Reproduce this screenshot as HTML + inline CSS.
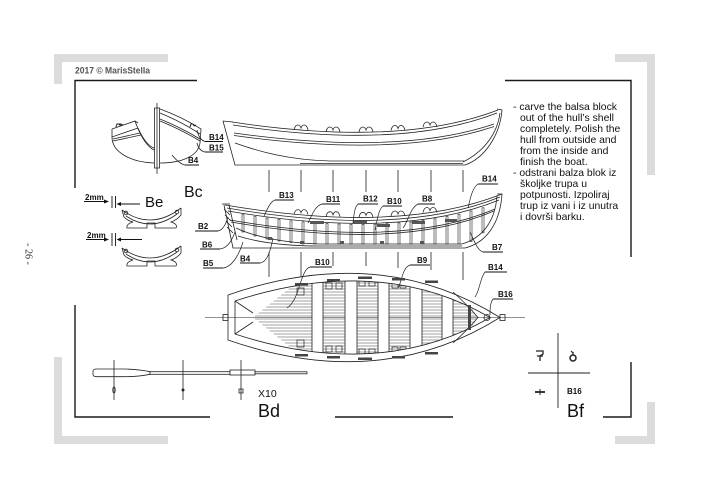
<!DOCTYPE html>
<html><head><meta charset="utf-8">
<style>
html,body{margin:0;padding:0;background:#fff;}
svg{display:block;}
text{font-family:"Liberation Sans",Arial,sans-serif;}
</style></head><body>
<svg width="708" height="489" viewBox="0 0 708 489" xmlns="http://www.w3.org/2000/svg">
<rect width="708" height="489" fill="#fff"/>
<defs>
<clipPath id="inner"><path d="M235,301 C305,278 400,265 490,317.5 C400,370 305,357 235,334 Z"/></clipPath>
<clipPath id="floor"><path d="M253,317.5 L315,268 L445,268 L478,317.5 L445,367 L315,367 Z"/></clipPath>
</defs>

<!-- gray corner bars -->
<g fill="#dcdcdc">
<rect x="54" y="54" width="114" height="8"/>
<rect x="54" y="54" width="8" height="30"/>
<rect x="615" y="54" width="40" height="8"/>
<rect x="647" y="54" width="8" height="121"/>
<rect x="54" y="357" width="8" height="87"/>
<rect x="54" y="436" width="114" height="8"/>
<rect x="647" y="402" width="8" height="42"/>
<rect x="615" y="436" width="40" height="8"/>
</g>

<!-- black frame -->
<g stroke="#1a1a1a" stroke-width="1.4" fill="none">
<path d="M75,188 V80.5 H197"/>
<path d="M505,80.5 H631 V257"/>
<path d="M631,362 V417 H603"/>
<path d="M335,417 H453"/>
<path d="M75,305 V417 H210"/>
</g>

<text x="75" y="73.5" font-size="9" font-weight="bold" fill="#555" textLength="75" lengthAdjust="spacingAndGlyphs">2017 © MarisStella</text>
<text transform="translate(25.5,254) rotate(90)" font-size="10" text-anchor="middle" fill="#333" style="font-family:'Liberation Serif',serif">- 26 -</text>

<!-- ===== section view (top-left) ===== -->
<g stroke="#222" stroke-width="0.8" fill="none">
<path d="M157,103 V174"/>
<rect x="154.5" y="108" width="5" height="60"/>
<path d="M112,129 L135,121 L138,123"/>
<path d="M112,129 L112,137 L138,128"/>
<path d="M113,139 L140,133"/>
<path d="M113,141 L141,135"/>
<path d="M112,137 C112,152 130,162 154,163"/>
<path d="M135,121 C140,135 146,146 154,150"/>
<path d="M138,128 C143,139 148,146 154,148"/>
<path d="M160,109 Q182,117 201,129 L200,143"/>
<path d="M160,113 Q182,122 200,134"/>
<path d="M160,119 Q182,128 200,139"/>
<path d="M160,121 Q182,130 200,141"/>
<path d="M200,143 C198,157 180,163 160,163"/>
<path d="M116,127 l1,-3 l3,0 l1,2 M119,125 l2,-1 l2,1" stroke-width="1"/>
<path d="M190,127 l1,-3 l2,0 l1,2 M194,126 l2,-1" stroke-width="1"/>
<path d="M205,141.5 C200,140 198,135 197,130"/>
<path d="M205,152 C200,151 198,147 197,143"/>
<path d="M185,165 C180,164 176,160 172,155"/>
</g>
<g stroke="#111" stroke-width="1">
<path d="M205,141.5 H223"/><path d="M205,152 H223"/><path d="M185,165 H199"/>
</g>
<g font-size="8" font-weight="bold" fill="#111">
<text x="209" y="140">B14</text>
<text x="209" y="150.5">B15</text>
<text x="188" y="163">B4</text>
</g>

<!-- ===== top profile boat ===== -->
<g stroke="#222" stroke-width="0.8" fill="none">
<path d="M223,121 L233,122"/>
<path d="M223,121 L235,165 L465,165 C485,158 500,135 502,110 L497,109"/>
<path d="M300,163.5 L463,163.5"/>
<path d="M232,122 Q400,147.5 498,110"/>
<path d="M233,125 Q400,150.5 497,113"/>
<path d="M234,133 Q400,156 494,124"/>
<path d="M234,135.5 Q400,158.5 494,126.5"/>
<path d="M500,113 C497,135 483,152 463,162"/>
<path d="M235,143 C260,152 290,160 330,161 L464,161"/>
<path d="M294,130 Q295,125 298,125 Q300,125 301,128 Q302,125 304,125 Q307,125 308,130"/>
<path d="M326,132 Q327,127 330,127 Q332,127 333,130 Q334,127 336,127 Q339,127 340,132"/>
<path d="M359,132 Q360,127 363,127 Q365,127 366,130 Q367,127 369,127 Q372,127 373,132"/>
<path d="M391,130.5 Q392,125.5 395,125.5 Q397,125.5 398,128.5 Q399,125.5 401,125.5 Q404,125.5 405,130.5"/>
<path d="M423,127 Q424,122 427,122 Q429,122 430,125 Q431,122 433,122 Q436,122 437,127"/>
</g>

<!-- alignment ticks -->
<g stroke="#222" stroke-width="0.8">
<path d="M269,170V192 M301,170V192 M333,170V192 M366,170V192 M398,170V192 M431,170V192 M463,170V192"/>
<path d="M269,252V277 M301,252V277 M333,252V266 M366,252V266 M398,252V268 M431,252V270 M463,252V280"/>
</g>

<!-- ===== middle cutaway boat ===== -->
<g stroke="#222" stroke-width="0.8" fill="none">
<path d="M222,204 L230,204"/>
<path d="M224,205 L233,248 L465,248 C485,243 500,225 502,194 L497,194"/>
<path d="M225,205 Q400,234.5 502,194"/>
<path d="M227,208 Q400,237.5 500,197"/>
<path d="M228,211 Q400,240.5 499,200"/>
<path d="M230,220 Q400,249.5 495,209"/>
<path d="M231,222 Q400,251.5 494,211"/>
<path d="M229,205 L237,240"/>
<path d="M224,209 L230,215 M225,215 L231,221 M226,221 L232,227 M227,227 L233,233"/>
<path d="M497,196 C495,222 482,238 462,244"/>
<path d="M236,228 C255,237 285,243 320,244 L462,244"/>
<path d="M238,236 C260,243 290,246 320,246 L462,246"/>
<g stroke-width="0.6">
<rect x="242" y="214.6" width="2" height="17.4"/>
<rect x="254" y="216.6" width="2" height="19.4"/>
<rect x="266" y="218.1" width="2" height="20.9"/>
<rect x="278" y="219.5" width="2" height="21.5"/>
<rect x="290" y="220.9" width="2" height="21.6"/>
<rect x="302" y="221.9" width="2" height="22.1"/>
<rect x="314" y="222.8" width="2" height="21.2"/>
<rect x="326" y="223.5" width="2" height="20.5"/>
<rect x="338" y="224" width="2" height="20"/>
<rect x="350" y="224.4" width="2" height="19.6"/>
<rect x="362" y="224.3" width="2" height="19.7"/>
<rect x="374" y="224.1" width="2" height="19.9"/>
<rect x="386" y="223.7" width="2" height="20.3"/>
<rect x="398" y="222.9" width="2" height="21.1"/>
<rect x="410" y="222" width="2" height="22"/>
<rect x="422" y="220.4" width="2" height="23.6"/>
<rect x="434" y="218.8" width="2" height="25.2"/>
<rect x="446" y="216.5" width="2" height="27.5"/>
<rect x="458" y="214.2" width="2" height="29.8"/>
<rect x="470" y="211" width="2" height="30.5"/>
<rect x="482" y="207.8" width="2" height="25"/>
</g>
<path d="M294,214.6 Q295,209.6 298,209.6 Q300,209.6 301,212.6 Q302,209.6 304,209.6 Q307,209.6 308,214.6"/>
<path d="M326,216.7 Q327,211.7 330,211.7 Q332,211.7 333,214.7 Q334,211.7 336,211.7 Q339,211.7 340,216.7"/>
<path d="M359,217.3 Q360,212.3 363,212.3 Q365,212.3 366,215.3 Q367,212.3 369,212.3 Q372,212.3 373,217.3"/>
<path d="M391,216 Q392,211 395,211 Q397,211 398,214 Q399,211 401,211 Q404,211 405,216"/>
<path d="M423,212.5 Q424,207.5 427,207.5 Q429,207.5 430,210.5 Q431,207.5 433,207.5 Q436,207.5 437,212.5"/>
</g>
<g fill="#555">
<rect x="310" y="221" width="14" height="3"/>
<rect x="353" y="221" width="14" height="3"/>
<rect x="377" y="224" width="13" height="3"/>
<rect x="412" y="221" width="13" height="3"/>
<rect x="445" y="219" width="12" height="3"/>
<rect x="268" y="237" width="4" height="3"/><rect x="300" y="241" width="4" height="3"/><rect x="340" y="241" width="4" height="3"/><rect x="380" y="241" width="4" height="3"/><rect x="420" y="241" width="4" height="3"/>
</g>

<!-- middle boat labels -->
<g stroke="#111" stroke-width="1">
<path d="M275,200 H294"/><path d="M322,204 H340"/><path d="M358,204 H378"/><path d="M383,206 H402"/><path d="M418,204 H435"/>
<path d="M478,184 H498"/><path d="M195,231 H218"/><path d="M200,249 H220"/><path d="M203,268 H223"/><path d="M240,263 H260"/><path d="M483,252 H503"/>
<path d="M310,267 H332"/><path d="M410,265 H430"/><path d="M485,272 H507"/><path d="M493,299 H513"/>
</g>
<g stroke="#222" stroke-width="0.7" fill="none">
<path d="M275,200 C270,202 268,208 264,216"/>
<path d="M322,204 C315,206 312,215 308,223"/>
<path d="M358,204 C354,208 354,216 353,223"/>
<path d="M383,206 C378,210 377,222 375,230"/>
<path d="M418,204 C410,208 408,222 403,228"/>
<path d="M478,184 C472,188 470,200 468,208"/>
<path d="M218,231 C223,230 226,224 228,217"/>
<path d="M220,249 C228,248 232,240 235,232"/>
<path d="M223,268 C233,267 240,252 243,242"/>
<path d="M260,263 C268,262 271,248 273,238"/>
<path d="M483,252 C477,250 474,240 470,232"/>
<path d="M310,267 C300,270 300,300 287,308"/>
<path d="M410,265 C402,268 402,282 398,288"/>
<path d="M485,272 C480,278 480,290 475,297"/>
<path d="M493,299 C490,303 490,310 490,315"/>
</g>
<g font-size="8" font-weight="bold" fill="#111">
<text x="279" y="198">B13</text>
<text x="326" y="202">B11</text>
<text x="363" y="201.7">B12</text>
<text x="387" y="204">B10</text>
<text x="422" y="201.7">B8</text>
<text x="482" y="181.7">B14</text>
<text x="198" y="229">B2</text>
<text x="202" y="247.7">B6</text>
<text x="203" y="266">B5</text>
<text x="240" y="261.7">B4</text>
<text x="492" y="250">B7</text>
<text x="315" y="265">B10</text>
<text x="417" y="263">B9</text>
<text x="488" y="270">B14</text>
<text x="498" y="297">B16</text>
</g>

<!-- ===== plan view ===== -->
<g stroke="#222" stroke-width="0.6">
<path d="M205,317.5 H525"/>
</g>
<g clip-path="url(#inner)">
<g clip-path="url(#floor)" stroke="#444" stroke-width="0.6">
<path d="M250,271H480M250,274H480M250,277H480M250,280H480M250,283H480M250,286H480M250,289H480M250,292H480M250,295H480M250,298H480M250,301H480M250,304H480M250,307H480M250,310H480M250,313H480M250,316H480M250,319H480M250,322H480M250,325H480M250,328H480M250,331H480M250,334H480M250,337H480M250,340H480M250,343H480M250,346H480M250,349H480M250,352H480M250,355H480M250,358H480M250,361H480M250,364H480"/>
</g>
<g fill="#fff" stroke="#222" stroke-width="0.8">
<rect x="312" y="262" width="11" height="112"/>
<rect x="345" y="262" width="12" height="112"/>
<rect x="378" y="262" width="11" height="112"/>
<rect x="410" y="262" width="12" height="112"/>
<rect x="442" y="262" width="11" height="112"/>
</g>
<g fill="none" stroke="#222" stroke-width="0.7">
<rect x="297" y="288" width="7" height="7"/><rect x="297" y="340" width="7" height="7"/>
<rect x="326" y="283" width="6" height="6"/><rect x="336" y="283" width="6" height="6"/>
<rect x="326" y="346" width="6" height="6"/><rect x="336" y="346" width="6" height="6"/>
<rect x="359" y="280" width="6" height="6"/><rect x="369" y="280" width="6" height="6"/>
<rect x="359" y="349" width="6" height="6"/><rect x="369" y="349" width="6" height="6"/>
<rect x="392" y="282" width="6" height="6"/><rect x="400" y="282" width="6" height="6"/>
<rect x="392" y="347" width="6" height="6"/><rect x="400" y="347" width="6" height="6"/>
<rect x="456" y="292" width="6" height="7"/><rect x="456" y="336" width="6" height="7"/>
</g>
</g>
<g stroke="#222" stroke-width="0.8" fill="none">
<path d="M228,295 C300,270 400,255 500,317.5 C400,380 300,365 228,340 Z"/>
<path d="M235,301 C305,278 400,265 490,317.5 C400,370 305,357 235,334 Z"/>
<rect x="223" y="314.5" width="5" height="6"/>
<rect x="500" y="314.5" width="5" height="6"/>
<path d="M235,301 L253,313 M235,334 L253,322"/>
<path d="M453,292 C462,300 470,308 478,317.5 C470,327 462,335 453,343"/>
<circle cx="487" cy="317.5" r="3"/>
</g>
<rect x="468" y="305" width="3" height="25" fill="#444"/>
<g fill="#444">
<rect x="295" y="283" width="13" height="2.5"/><rect x="327" y="279" width="13" height="2.5"/><rect x="358" y="276.5" width="14" height="2.5"/><rect x="392" y="278" width="13" height="2.5"/><rect x="425" y="280.5" width="13" height="2.5"/>
<rect x="295" y="354" width="13" height="2.5"/><rect x="327" y="356" width="13" height="2.5"/><rect x="358" y="357.5" width="14" height="2.5"/><rect x="392" y="356" width="13" height="2.5"/><rect x="425" y="352" width="13" height="2.5"/>
</g>

<!-- ===== Be knees ===== -->
<g font-size="8" font-weight="bold" fill="#111">
<text x="85" y="200">2mm</text>
<text x="87" y="238">2mm</text>
</g>
<g stroke="#111" stroke-width="0.9" fill="none">
<path d="M84,201.5 H106"/><path d="M112,196 V208 M115.5,196 V208"/><path d="M120,204 H140"/>
<path d="M86,239.5 H106"/><path d="M112,233 V246 M115.5,233 V246"/><path d="M120,239.5 H142"/>
</g>
<g fill="#111">
<path d="M104,199.5 L109,201.5 L104,203.5 Z"/><path d="M121,202 L116.5,204 L121,206 Z"/>
<path d="M104,237.5 L109,239.5 L104,241.5 Z"/><path d="M121,237.5 L116.5,239.5 L121,241.5 Z"/>
</g>
<text x="145" y="207" font-size="15" fill="#111">Be</text>
<text x="184" y="197" font-size="16" fill="#111">Bc</text>
<g stroke="#222" stroke-width="0.8" fill="none">
<g>
<path d="M122,210 Q151,231 181,208"/>
<path d="M122,210 L124,217 Q128,221 133,222 Q126,224 127,228 L147,228 L147,223 L155,223 L155,228 L176,228 Q178,224 171,222 Q177,220 181,215 L181,208"/>
<path d="M126,216 Q151,233 177,214"/>
<circle cx="126" cy="213" r="1.8"/><circle cx="177" cy="212" r="1.8"/>
</g>
<g transform="translate(0,38)">
<path d="M122,210 Q151,231 181,208"/>
<path d="M122,210 L124,217 Q128,221 133,222 Q126,224 127,228 L147,228 L147,223 L155,223 L155,228 L176,228 Q178,224 171,222 Q177,220 181,215 L181,208"/>
<path d="M126,216 Q151,233 177,214"/>
<circle cx="126" cy="213" r="1.8"/><circle cx="177" cy="212" r="1.8"/>
</g>
</g>

<!-- ===== oar (Bd) ===== -->
<g stroke="#222" stroke-width="0.8" fill="#fff">
<path d="M93,371 Q93,369 97,369 L125,369 Q140,369.5 150,371.7 L150,374.3 Q140,376.5 125,376.7 L97,376.7 Q93,376.7 93,374.5 Z"/>
<rect x="150" y="371.7" width="80" height="2.6"/>
<rect x="230" y="370" width="25" height="5"/>
<rect x="255" y="371.8" width="52" height="2"/>
</g>
<g stroke="#222" stroke-width="0.8" fill="none">
<path d="M114,360 V400 M183,360 V400 M241,360 V400"/>
<ellipse cx="114" cy="390" rx="1.2" ry="3"/>
<rect x="239" y="389" width="4" height="4"/>
</g>
<circle cx="183" cy="390" r="1.5" fill="#222"/>
<text x="258" y="397" font-size="10.5" fill="#111">X10</text>
<text x="258" y="417" font-size="18" fill="#111">Bd</text>

<!-- ===== Bf ===== -->
<g stroke="#222" stroke-width="0.9" fill="none">
<path d="M558,333 V408 M528,373 H590"/>
<path d="M536,351 H543 V354 L540,356 V361 M537,356 H543" stroke-width="1.3"/>
<circle cx="573" cy="358" r="3" stroke-width="1.5"/>
<path d="M573,352 V355 M571,351 L573,353" stroke-width="1.2"/>
<path d="M535,392 H545" stroke-width="1.8"/><path d="M540,389 V395" stroke-width="1"/>
</g>
<text x="567" y="394" font-size="8" font-weight="bold" fill="#111">B16</text>
<text x="567" y="417" font-size="18" fill="#111">Bf</text>

<!-- ===== right text ===== -->
<g font-size="10.4" fill="#111">
<text x="513" y="110">- carve the balsa block</text>
<text x="520" y="121">out of the hull’s shell</text>
<text x="520" y="132">completely. Polish the</text>
<text x="520" y="143">hull from outside and</text>
<text x="520" y="154">from the inside and</text>
<text x="520" y="165">finish the boat.</text>
<text x="513" y="176">- odstrani balza blok iz</text>
<text x="520" y="187">školjke trupa u</text>
<text x="520" y="198">potpunosti. Izpoliraj</text>
<text x="520" y="209">trup iz vani i iz unutra</text>
<text x="520" y="220">i dovrši barku.</text>
</g>
</svg>
</body></html>
